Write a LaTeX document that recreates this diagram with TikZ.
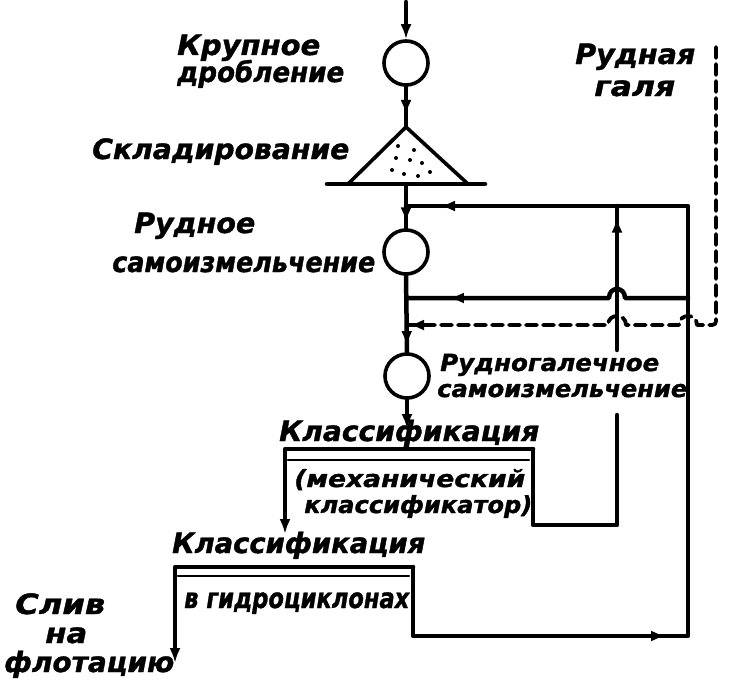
\documentclass[tikz,border=0pt]{standalone}
\usepackage{fontspec}
\setmainfont{DejaVu Sans}
\newfontfamily\hand[FakeBold=1.3]{DejaVu Sans Bold Oblique}
\usetikzlibrary{arrows.meta,decorations.markings}
\newcommand{\hw}[2]{\resizebox{#1pt}{1.12\height}{#2}}
\tikzset{
  proc/.style={circle,draw,line width=3.6pt,minimum size=44pt,inner sep=0pt,fill=white},
  lbl/.style={inner sep=0pt,anchor=base west,font=\fontsize{25}{27}\hand},
  lblsm/.style={lbl,font=\fontsize{21}{23}\hand},
  tip/.style={-{Latex[length=15pt,width=11pt]}},
  marr/.style={postaction={decorate},decoration={markings,mark=at position #1 with {\arrow{Latex[length=15pt,width=11pt]}}}},
  thinline/.style={line width=2.2pt},
  dashline/.style={line width=3.8pt,dash pattern=on 11pt off 6pt},
}
\begin{document}
\begin{tikzpicture}[x=1pt,y=-1pt,line cap=round,line join=round,line width=4.5pt]
\useasboundingbox (0,0) rectangle (730,693);

% process circles
\node[proc] (c1) at (406,63) {};
\node[proc] (c2) at (406,252) {};
\node[proc] (c3) at (407,376) {};

% coordinates
\coordinate (top) at (406,2);
\coordinate (apex) at (406,127);
\coordinate (bl) at (348,184);
\coordinate (br) at (468,184);
\coordinate (gl) at (327,184);
\coordinate (gr) at (485,184);
\coordinate (bc) at (406,184);
\coordinate (j0) at (406,206);
\coordinate (r0) at (688,206);
\coordinate (j1) at (406,298);
\coordinate (r1) at (688,298);
\coordinate (j2) at (407,325);
\coordinate (dtop) at (716,47);
\coordinate (m1) at (617,206);
\coordinate (m3) at (617,350);
\coordinate (m4) at (617,415);
\coordinate (m2) at (617,525);
\coordinate (k1) at (285,449);
\coordinate (k2) at (533,449);
\coordinate (kl) at (285,534);
\coordinate (kb) at (533,525);
\coordinate (kin) at (407,429);
\coordinate (h1) at (175,567);
\coordinate (h2) at (413,567);
\coordinate (hl) at (175,663);
\coordinate (hb) at (413,636);
\coordinate (hr) at (688,636);

% main flow
\draw[tip] (top) -- (c1.north);
\draw[marr=0.7] (c1.south) -- (apex);
\draw[fill=white,line width=3.6pt] (apex) -- (bl) -- (br) -- cycle;
\foreach \p in {(398,146),(414,150),(396,158),(410,160),(422,163),(392,170),(404,174),(418,176),(430,172)}
  \fill \p circle (2pt);
\draw (gl) -- (gr);
\draw[marr=0.87] (bc) -- (c2.north);
\draw[marr=0.92] (c2.south) -- (c3.north);
\draw[tip] (c3.south) -- (kin);

% recycle from hydrocyclone sands
\draw[postaction={decorate},decoration={markings,
   mark=at position 322pt with {\arrow{Latex[length=15pt,width=11pt]}},
   mark=at position 1022pt with {\arrow{Latex[length=15pt,width=11pt]}}}]
  (h2) -- (hb) -- (hr) -- (r0) -- (j0);
\draw[marr=250pt] (r1) -- (625,298) .. controls (625,286) and (609,286) .. (609,298) -- (j1);

% mechanical classifier sands
\draw (k2) -- (kb) -- (m2) -- (m4);
\draw[marr=0.92] (m3) -- (m1);

% ore pebbles (dashed)
\draw[dashline,marr=-2pt] (dtop) -- (716,317) .. controls (716,325) .. (708,325) -- (697,325)
  .. controls (697,313) and (679,313) .. (679,325) -- (626,325)
  .. controls (626,313) and (608,313) .. (608,325) -- (j2);

% classifier boxes
\draw[tip] (k2) -- (k1) -- (kl);
\draw[thinline] (288,460) -- (529,460);
\draw[tip] (h2) -- (h1) -- (hl);
\draw[thinline] (178,576) -- (409,576);

% labels
\node[lbl] (t1) at (175,55) {\hw{143}{Крупное}};
\node[lbl] (t2) at (175,82) {\hw{167}{дробление}};
\node[lbl] (t3) at (90,159) {\hw{257}{Складирование}};
\node[lbl] (t4) at (132,233) {\hw{121}{Рудное}};
\node[lbl] (t5) at (110,272) {\hw{263}{самоизмельчение}};
\node[lbl] (t6) at (573,64) {\hw{120}{Рудная}};
\node[lbl] (t7) at (592,96) {\hw{81}{галя}};
\node[lblsm] (t8) at (438,371) {\hw{219}{Рудногалечное}};
\node[lblsm] (t9) at (435,397) {\hw{250}{самоизмельчение}};
\node[lbl] (t10) at (277,441) {\hw{260}{Классификация}};
\node[lblsm] (t11) at (292,487) {\hw{231}{(механический}};
\node[lblsm] (t12) at (302,513) {\hw{228}{классификатор)}};
\node[lbl] (t13) at (170,553) {\hw{253}{Классификация}};
\node[lbl] (t14) at (182,608) {\hw{225}{в гидроциклонах}};
\node[lbl] (t15) at (13,614) {\hw{90}{Слив}};
\node[lbl] (t16) at (43,643) {\hw{42}{на}};
\node[lbl] (t17) at (2,672) {\hw{170}{флотацию}};
\end{tikzpicture}
\end{document}
